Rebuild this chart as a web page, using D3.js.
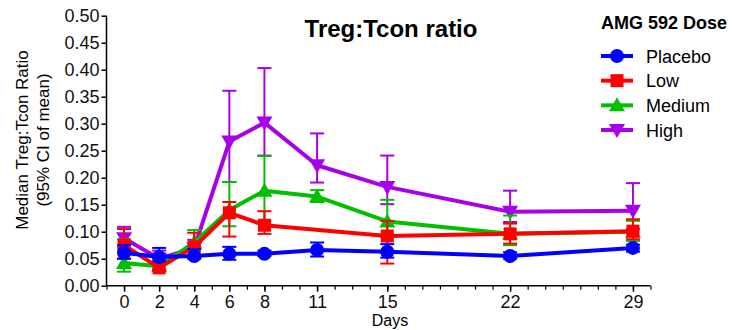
<!DOCTYPE html>
<html>
<head>
<meta charset="utf-8">
<script src="https://cdn.jsdelivr.net/npm/d3@7"></script>
<style>
  body { margin: 0; background: #fff; }
  svg { font-family: "Liberation Sans", Arial, sans-serif; }
</style>
</head>
<body>
<div id="chart"></div>
<script>
// days of the study (x axis)
const days = [0, 2, 4, 6, 8, 11, 15, 22, 29];
const yTicks = [0, 0.05, 0.10, 0.15, 0.20, 0.25, 0.30, 0.35, 0.40, 0.45, 0.50];

// median ratio per dose group, with 95% CI bounds (null = no sample)
const placebo   = [0.061, 0.053, 0.055, 0.059, 0.059, 0.066, 0.063, 0.055, 0.070];
const placeboLo = [0.050, 0.045, 0.050, 0.048, 0.055, 0.054, 0.052, 0.050, 0.063];
const placeboHi = [0.075, 0.070, 0.068, 0.072, 0.065, 0.080, 0.077, 0.062, 0.076];

const low   = [0.075, 0.033, 0.072, 0.135, 0.112, null, 0.092, 0.096, 0.101];
const lowLo = [0.050, 0.029, 0.052, 0.091, 0.096, null, 0.041, 0.078, 0.086];
const lowHi = [0.105, 0.045, 0.098, 0.155, 0.138, null, 0.120, 0.115, 0.123];

const medium   = [0.042, 0.036, 0.080, 0.140, 0.176, 0.165, 0.119, 0.096, 0.100];
const mediumLo = [0.026, 0.030, 0.055, 0.110, 0.120, 0.155, 0.090, 0.075, 0.083];
const mediumHi = [0.086, 0.050, 0.103, 0.192, 0.240, 0.177, 0.159, 0.130, 0.120];

const high   = [0.088, 0.050, 0.070, 0.267, 0.302, 0.223, 0.183, 0.137, 0.139];
const highLo = [0.070, 0.030, 0.055, 0.192, 0.241, 0.191, 0.151, 0.118, 0.105];
const highHi = [0.109, 0.065, 0.085, 0.361, 0.403, 0.282, 0.241, 0.176, 0.190];

const groupNames = ['Placebo', 'Low', 'Medium', 'High'];
const groupColors = ['#0000ff', '#ff0000', '#00c000', '#a800e8'];
const groupSymbols = ['circle', 'square', 'triangle', 'triangleDown'];

const groups = [
    { name: 'Placebo', mid: placebo, lo: placeboLo, hi: placeboHi },
    { name: 'Low', mid: low, lo: lowLo, hi: lowHi },
    { name: 'Medium', mid: medium, lo: mediumLo, hi: mediumHi },
    { name: 'High', mid: high, lo: highLo, hi: highHi }
].map((g, i) => Object.assign(g, { color: groupColors[i], symbol: groupSymbols[i] }));

const width = 734, height = 330;

const svg = d3.select('#chart').append('svg')
    .attr('width', width)
    .attr('height', height);

const x = d3.scaleLinear().domain([-1, 30]).range([106.5, 650.5]);
const y = d3.scaleLinear().domain([0, 0.5]).range([285.7, 15.7]);

// marker shapes, sized in px
function marker(sel, symbol, color) {
    if (symbol === 'circle') {
        sel.append('circle').attr('r', 7).attr('fill', color);
    } else if (symbol === 'square') {
        sel.append('rect').attr('x', -6.5).attr('y', -6.5).attr('width', 13).attr('height', 13).attr('fill', color);
    } else if (symbol === 'triangle') {
        sel.append('path').attr('d', 'M0,-8L8,6L-8,6Z').attr('fill', color);
    } else {
        sel.append('path').attr('d', 'M0,8L8,-6L-8,-6Z').attr('fill', color);
    }
}

// ---- axes ----
const xAxis = svg.append('g').attr('transform', 'translate(0,' + y(0) + ')');
xAxis.call(d3.axisBottom(x).tickValues(d3.range(-1, 31)).tickSize(4).tickFormat(''))
    .call(g => g.select('.domain').attr('stroke-width', 1.5).attr('d', 'M' + x(-1) + ',0H' + x(30)));
xAxis.selectAll('.tick line').attr('stroke-width', 1.2);
const xMajor = svg.append('g').attr('transform', 'translate(0,' + y(0) + ')')
    .call(d3.axisBottom(x).tickValues(days).tickSize(6).tickPadding(4).tickFormat(d3.format('d')));
xMajor.select('.domain').remove();
xMajor.selectAll('.tick line').attr('stroke-width', 1.5);
xMajor.selectAll('text').style('font-size', '18px').attr('fill', '#111');

svg.append('text')
    .attr('x', 390)
    .attr('y', 326)
    .attr('text-anchor', 'middle')
    .style('font-size', '16px')
    .text('Days');

const yAxis = svg.append('g').attr('transform', 'translate(' + x(-1) + ',0)')
    .call(d3.axisLeft(y).tickValues(yTicks).tickSize(5).tickPadding(2).tickFormat(d3.format('.2f')));
yAxis.select('.domain').attr('stroke-width', 1.5).attr('d', 'M0,' + y(0.5) + 'V' + y(0));
yAxis.selectAll('.tick line').attr('stroke-width', 1.5);
yAxis.selectAll('text').style('font-size', '18px').attr('fill', '#111');

const yTitle = svg.append('text')
    .attr('transform', 'translate(28,140) rotate(-90)')
    .attr('text-anchor', 'middle')
    .style('font-size', '17px');
yTitle.append('tspan').attr('x', 0).attr('y', 0).text('Median Treg:Tcon Ratio');
yTitle.append('tspan').attr('x', 0).attr('y', 21).text('(95% CI of mean)');

svg.append('text')
    .attr('x', 391)
    .attr('y', 37)
    .attr('text-anchor', 'middle')
    .style('font-size', '24px')
    .style('font-weight', 'bold')
    .text('Treg:Tcon ratio');

// ---- series, drawn from back (High) to front (Placebo) ----
const line = d3.line()
    .defined(d => d.v !== null)
    .x(d => x(d.day))
    .y(d => y(d.v));

const plot = svg.append('g');
groups.slice().reverse().forEach(g => {
    const pts = days.map((day, i) => ({ day, v: g.mid[i], lo: g.lo[i], hi: g.hi[i] }))
        .filter(d => d.v !== null);
    const layer = plot.append('g');

    const eb = layer.selectAll('.eb').data(pts).enter().append('g')
        .attr('stroke', g.color)
        .attr('stroke-width', 2);
    eb.append('line')
        .attr('x1', d => x(d.day)).attr('x2', d => x(d.day))
        .attr('y1', d => y(d.lo)).attr('y2', d => y(d.hi));
    eb.append('line')
        .attr('x1', d => x(d.day) - 7).attr('x2', d => x(d.day) + 7)
        .attr('y1', d => y(d.hi)).attr('y2', d => y(d.hi));
    eb.append('line')
        .attr('x1', d => x(d.day) - 7).attr('x2', d => x(d.day) + 7)
        .attr('y1', d => y(d.lo)).attr('y2', d => y(d.lo));

    layer.append('path')
        .datum(pts)
        .attr('d', line)
        .attr('fill', 'none')
        .attr('stroke', g.color)
        .attr('stroke-width', 4)
        .attr('stroke-linejoin', 'round');

    layer.selectAll('.m').data(pts).enter().append('g')
        .attr('transform', d => 'translate(' + x(d.day) + ',' + y(d.v) + ')')
        .each(function () { marker(d3.select(this), g.symbol, g.color); });
});

// ---- legend ----
const legend = svg.append('g');
legend.append('text')
    .attr('x', 601)
    .attr('y', 29)
    .style('font-size', '18px')
    .style('font-weight', 'bold')
    .text('AMG 592 Dose');

const legendY = d3.scalePoint().domain(groupNames).range([56, 130]);
groups.forEach(g => {
    const row = legend.append('g').attr('transform', 'translate(0,' + legendY(g.name) + ')');
    row.append('line')
        .attr('x1', 601).attr('x2', 633)
        .attr('stroke', g.color).attr('stroke-width', 4);
    marker(row.append('g').attr('transform', 'translate(617,0)'), g.symbol, g.color);
    row.append('text')
        .attr('x', 646)
        .attr('y', 6.5)
        .style('font-size', '18px')
        .text(g.name);
});
</script>
</body>
</html>
